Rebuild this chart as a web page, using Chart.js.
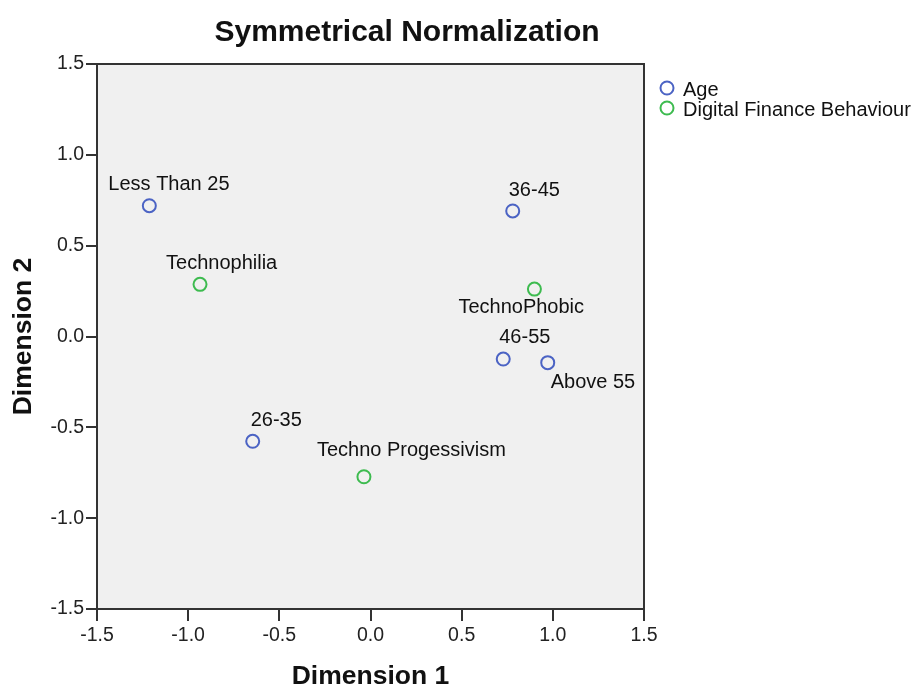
<!DOCTYPE html>
<html>
<head>
<meta charset="utf-8">
<script src="https://cdn.jsdelivr.net/npm/chart.js@4"></script>
<style>
  html, body { margin: 0; padding: 0; background: #fff; }
  canvas { display: block; }
</style>
</head>
<body>
<canvas id="cbChart" width="911" height="690"></canvas>
<script>
// data
var ageLabels = ['Less Than 25', '26-35', '36-45', '46-55', 'Above 55'];
var ageDim1 = [-1.213, -0.646, 0.780, 0.728, 0.972];
var ageDim2 = [0.720, -0.577, 0.691, -0.124, -0.144];

var behaviourLabels = ['Technophilia', 'Techno Progessivism', 'TechnoPhobic'];
var behaviourDim1 = [-0.935, -0.036, 0.899];
var behaviourDim2 = [0.287, -0.772, 0.261];

var axisTicks = [-1.5, -1.0, -0.5, 0.0, 0.5, 1.0, 1.5];

// where each point label sits relative to its point (left edge, baseline)
var labelShift = {
    'Less Than 25': [-41, -16],
    '26-35': [-2, -15],
    '36-45': [-4, -15],
    '46-55': [-4, -16],
    'Above 55': [3, 25],
    'Technophilia': [-34, -15],
    'Techno Progessivism': [-47, -21],
    'TechnoPhobic': [-76, 24]
};

var FONT = '"Liberation Sans", Arial, sans-serif';
var blue = '#4b63c4';
var green = '#3dbb4f';

function toPoints(xs, ys) {
    return xs.map(function (x, i) { return { x: x, y: ys[i] }; });
}

var cbPlugin = {
    id: 'cbPlugin',
    beforeDraw: function (chart) {
        var a = chart.chartArea, ctx = chart.ctx;
        ctx.save();
        ctx.fillStyle = '#f0f0f0';
        ctx.fillRect(a.left, a.top, a.right - a.left, a.bottom - a.top);
        ctx.restore();
    },
    afterDatasetsDraw: function (chart) {
        var a = chart.chartArea, ctx = chart.ctx;
        ctx.save();
        // frame
        ctx.strokeStyle = '#333';
        ctx.lineWidth = 2;
        ctx.strokeRect(a.left, a.top, a.right - a.left, a.bottom - a.top);

        // point labels
        ctx.fillStyle = '#111';
        ctx.font = '20px ' + FONT;
        ctx.textAlign = 'left';
        ctx.textBaseline = 'alphabetic';
        chart.data.datasets.forEach(function (ds, di) {
            var meta = chart.getDatasetMeta(di);
            meta.data.forEach(function (pt, i) {
                var name = ds.pointNames[i];
                var s = labelShift[name] || [0, -15];
                ctx.fillText(name, pt.x + s[0], pt.y + s[1]);
            });
        });

        // title
        ctx.font = 'bold 30px ' + FONT;
        ctx.textAlign = 'center';
        ctx.fillStyle = '#111';
        ctx.fillText('Symmetrical Normalization', 407, 41);

        // legend
        ctx.textAlign = 'left';
        ctx.font = '20px ' + FONT;
        chart.data.datasets.forEach(function (ds, di) {
            var y = 88 + di * 20;
            ctx.beginPath();
            ctx.arc(667, y, 6.5, 0, Math.PI * 2);
            ctx.lineWidth = 2;
            ctx.strokeStyle = ds.borderColor;
            ctx.stroke();
            ctx.fillStyle = '#111';
            ctx.fillText(ds.label, 683, y + 8);
        });
        ctx.restore();
    }
};

var ctx = document.getElementById('cbChart').getContext('2d');
var cbChart = new Chart(ctx, {
    type: 'scatter',
    data: {
        datasets: [{
            label: 'Age',
            data: toPoints(ageDim1, ageDim2),
            pointNames: ageLabels,
            borderColor: blue,
            backgroundColor: 'rgba(0,0,0,0)',
            pointRadius: 6.5,
            pointHoverRadius: 6.5,
            pointBorderWidth: 2
        }, {
            label: 'Digital Finance Behaviour',
            data: toPoints(behaviourDim1, behaviourDim2),
            pointNames: behaviourLabels,
            borderColor: green,
            backgroundColor: 'rgba(0,0,0,0)',
            pointRadius: 6.5,
            pointHoverRadius: 6.5,
            pointBorderWidth: 2
        }]
    },
    options: {
        responsive: false,
        animation: false,
        devicePixelRatio: 1,
        layout: {
            padding: { top: 64, right: 267, bottom: 0, left: 0 }
        },
        plugins: {
            legend: { display: false },
            title: { display: false },
            tooltip: { enabled: false }
        },
        scales: {
            x: {
                type: 'linear',
                min: -1.5,
                max: 1.5,
                afterBuildTicks: function (scale) {
                    scale.ticks = axisTicks.map(function (v) { return { value: v }; });
                },
                afterFit: function (scale) { scale.height = 81; },
                grid: {
                    drawOnChartArea: false,
                    drawTicks: true,
                    tickLength: 12,
                    color: '#333',
                    lineWidth: 2
                },
                border: { display: false },
                ticks: {
                    color: '#222',
                    padding: 3,
                    font: { family: FONT, size: 19.5 },
                    callback: function (v) { return Number(v).toFixed(1); }
                },
                title: {
                    display: true,
                    text: 'Dimension 1',
                    color: '#111',
                    padding: { top: 0, bottom: 0 },
                    font: { family: FONT, size: 26.5, weight: 'bold', lineHeight: 1 }
                }
            },
            y: {
                type: 'linear',
                min: -1.5,
                max: 1.5,
                afterBuildTicks: function (scale) {
                    scale.ticks = axisTicks.map(function (v) { return { value: v }; });
                },
                afterFit: function (scale) { scale.width = 97; },
                grid: {
                    drawOnChartArea: false,
                    drawTicks: true,
                    tickLength: 11,
                    color: '#333',
                    lineWidth: 2
                },
                border: { display: false },
                ticks: {
                    color: '#222',
                    padding: 2,
                    font: { family: FONT, size: 19.5 },
                    callback: function (v) { return Number(v).toFixed(1); }
                },
                title: {
                    display: true,
                    text: 'Dimension 2',
                    color: '#111',
                    padding: { top: 10, bottom: 0 },
                    font: { family: FONT, size: 26.5, weight: 'bold', lineHeight: 1 }
                }
            }
        }
    },
    plugins: [cbPlugin]
});
</script>
</body>
</html>
